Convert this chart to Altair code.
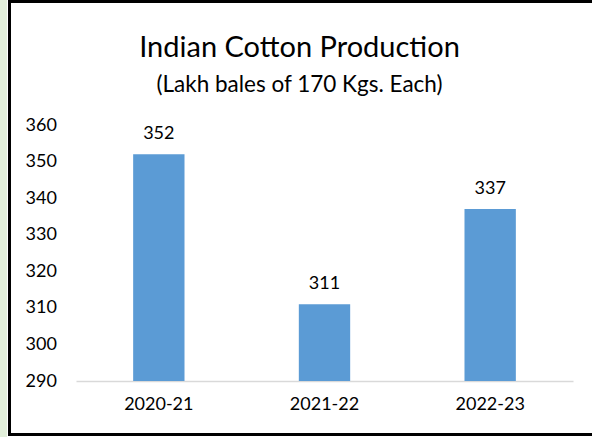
import altair as alt
import pandas as pd

seasons = ["2020-21", "2021-22", "2022-23"]
production = [352, 311, 337]
y_ticks = [290, 300, 310, 320, 330, 340, 350, 360]

df = pd.DataFrame({"season": seasons, "production": production})

FONT = "Lato"
W, H = 497, 256

x_enc = alt.X("season:N", sort=seasons, title=None,
              scale=alt.Scale(paddingInner=0.69, paddingOuter=0.345),
              axis=alt.Axis(labelAngle=0, labelFontSize=18, labelFont=FONT,
                            labelColor="#000000", ticks=False, domainColor="#D9D9D9",
                            domainWidth=1.5, labelPadding=14, grid=False))
y_enc = alt.Y("production:Q", title=None,
              scale=alt.Scale(domain=[290, 360], zero=False, nice=False),
              axis=alt.Axis(values=y_ticks, grid=False, domain=False, ticks=False,
                            labelOverlap=False, labelFontSize=18, labelFont=FONT,
                            labelColor="#000000", labelAlign="left", labelPadding=51))

base = alt.Chart(df)

bars = base.mark_bar(color="#5B9BD5", clip=True).encode(x=x_enc, y=y_enc)

labels = base.mark_text(font=FONT, fontSize=18, color="#000000", dy=-15,
                        baseline="alphabetic").encode(
    x=x_enc, y=y_enc, text=alt.Text("production:Q"))

green = base.mark_rect(color="#E2EFDA").encode(
    x=alt.value(-76), x2=alt.value(-69), y=alt.value(-125), y2=alt.value(312))
border = base.mark_rect(fill=None, stroke="#000000", strokeWidth=3).encode(
    x=alt.value(-66.5), x2=alt.value(530), y=alt.value(-123.5), y2=alt.value(309.5))

chart = alt.layer(green, border, bars, labels).properties(
    width=W, height=H,
    background="#FFFFFF",
    title=alt.Title("Indian Cotton Production",
                    subtitle="(Lakh bales of 170 Kgs. Each)",
                    font=FONT, fontSize=29, fontWeight="normal", color="#000000",
                    subtitleFont=FONT, subtitleFontSize=22.5, subtitleColor="#000000",
                    anchor="middle", dx=-25, offset=-96, subtitlePadding=11),
    padding={"left": 76, "top": 125, "right": 19, "bottom": 56},
    autosize=alt.AutoSizeParams(type="none"),
).configure_view(stroke="transparent", strokeWidth=0).configure_axis(
    grid=False, labelOverlap=False
)

chart.save("out.html", embed_options={"renderer": "svg", "actions": False})
